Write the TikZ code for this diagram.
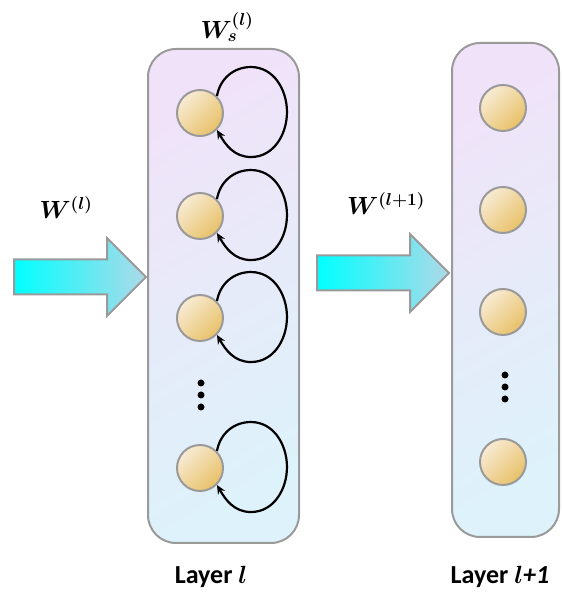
\documentclass[tikz,border=0pt]{standalone}
\usepackage{amsmath}
\usepackage{bm}
\usepackage{fontspec}
\setsansfont{Carlito}
\usepackage{xcolor}
\usepackage{tikz}
\usetikzlibrary{arrows.meta,positioning,shapes.arrows}

\definecolor{layerTop}{HTML}{F0E3F9}
\definecolor{layerMid}{HTML}{E7E8F8}
\definecolor{layerBot}{HTML}{DDF2FA}
\definecolor{ballLight}{HTML}{F8EBD4}
\definecolor{ballDark}{HTML}{E8C168}
\definecolor{edgeGray}{HTML}{9A9A9A}
\definecolor{flowLeft}{HTML}{00FFFF}
\definecolor{flowRight}{HTML}{AED9E8}

\begin{document}
\begin{tikzpicture}[
    x=1pt, y=1pt,
    layer/.style={draw=edgeGray, line width=2pt, rounded corners=28pt,
        top color=layerTop, middle color=layerMid, bottom color=layerBot, shading angle=30},
    unit/.style={circle, draw=edgeGray, line width=2pt, minimum size=46pt,
        inner sep=0pt, top color=ballLight, bottom color=ballDark, shading angle=45},
    flow/.style={single arrow, draw=edgeGray, line width=2pt,
        left color=flowLeft, right color=flowRight, inner xsep=0pt, inner ysep=16.5pt,
        minimum height=132pt, single arrow head extend=21.5pt},
    selfloop/.style={-{Stealth[length=9pt,width=8pt]}, line width=2.2pt},
    dot/.style={circle, fill=black, inner sep=0pt, minimum size=7pt},
    wlabel/.style={font=\fontsize{26}{30}\selectfont},
    caption/.style={font=\sffamily\bfseries\fontsize{26}{30}\selectfont}
]
    \useasboundingbox (0,0) rectangle (561,601);

    % the two layers
    \node[layer, minimum width=151pt, minimum height=494pt] (lay1) at (223.5,305) {};
    \node[layer, minimum width=107pt, minimum height=494pt] (lay2) at (505.5,311) {};

    % units of layer l, each with its own recurrent loop
    \foreach \y [count=\i] in {488,385,283,133} {
        \node[unit] (u\i) at (200,\y) {};
        \draw[selfloop] (u\i.45) to[out=80,in=180] ++(34,29)
            to[out=0,in=90] ++(36,-45) to[out=-90,in=0] ++(-36,-45)
            to[out=180,in=-60] (u\i.-45);
    }
    \foreach \y [count=\i] in {218,206,194}
        \node[dot] (ud\i) at (201,\y) {};

    % units of layer l+1
    \foreach \y [count=\i] in {493,391,289,139}
        \node[unit] (v\i) at (503,\y) {};
    \foreach \y [count=\i] in {226,214,202}
        \node[dot] (vd\i) at (505,\y) {};

    % inputs
    \node[flow, anchor=tail] (in1) at (13,324) {};
    \node[flow, anchor=tail] (in2) at (316,328) {};

    \node[wlabel] (w1) at (66,393) {$\bm{W^{(l)}}$};
    \node[wlabel] (w2) at (386,397) {$\bm{W^{(l+1)}}$};
    \node[wlabel] (ws) at (227,574) {$\bm{W_s^{(l)}}$};

    \node[caption] (c1) at (211,24) {Layer $\bm{l}$};
    \node[caption] (c2) at (500,24) {Layer $\bm{l}$\textit{+1}};
\end{tikzpicture}
\end{document}
